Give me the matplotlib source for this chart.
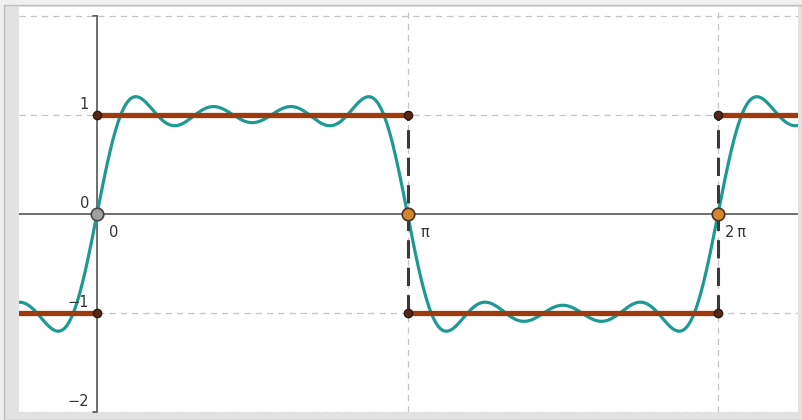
import numpy as np
import matplotlib.pyplot as plt
from matplotlib.patches import Rectangle

pi = np.pi

# partial Fourier sum of the square wave: odd harmonics and their amplitudes
harmonics = [1, 3, 5, 7]
amplitudes = [1.273, 0.424, 0.255, 0.182]

# square wave pieces: (start, end, level)
square_pieces = [(-pi, 0, -1), (0, pi, 1), (pi, 2 * pi, -1), (2 * pi, 3 * pi, 1)]

# jump points
jump_x = [pi, 2 * pi]
corner_pts = [(0, 1), (0, -1), (pi, 1), (pi, -1), (2 * pi, 1), (2 * pi, -1)]

ytick_vals = [1, 0, -1, -2]
ytick_text = ["1", "0", "\u22121", "\u22122"]
xtick_vals = [0, pi, 2 * pi]
xtick_text = ["0", "\u03c0", "2\u2009\u03c0"]

W, H = 803, 420
fig = plt.figure(figsize=(W / 100, H / 100), dpi=100, facecolor="#efefef")
fig.patches.append(Rectangle((4 / W, 0), 1, (H - 5) / H, transform=fig.transFigure,
                             facecolor="#e2e2e2", edgecolor="#bdbdbd", lw=1, zorder=-5))

ax = fig.add_axes([19 / W, 8 / H, (798 - 19) / W, (413 - 8) / H])
ax.set_zorder(2)
ax.set_facecolor("white")
ax.set_xlim(-0.2512 * pi, 2.2576 * pi)
ax.set_ylim(-2.0, 2.09)
for s in ax.spines.values():
    s.set_visible(False)
ax.set_xticks([])
ax.set_yticks([])

grid_kw = dict(color="#c4c4c4", lw=0.9, dashes=(5, 4), zorder=1)
for yv in [2, 1, -1, -2]:
    ax.axhline(yv, **grid_kw)
for xv in jump_x:
    ax.axvline(xv, **grid_kw)

# axes
ax.axhline(0, color="#555555", lw=1.2, zorder=2)
ax.plot([0, 0], [-2, 2], color="#555555", lw=1.2, zorder=2)
for yv in [2, -2]:
    ax.annotate("", xy=(0, yv), xytext=(-4, 0), textcoords="offset pixels",
                arrowprops=dict(arrowstyle="-", color="#555555", lw=1.2,
                                shrinkA=0, shrinkB=0))

# Fourier partial sum
x = np.linspace(-0.3 * pi, 2.3 * pi, 2000)
y = np.zeros_like(x)
for k, a in zip(harmonics, amplitudes):
    y += a * np.sin(k * x)
ax.plot(x, y, color="#1e9a93", lw=2.3, zorder=3, solid_capstyle="round")

# square wave
for x0, x1, lev in square_pieces:
    ax.plot([x0, x1], [lev, lev], color="#9e3b0e", lw=3.8, zorder=4,
            solid_capstyle="butt")
for xv in jump_x:
    ax.plot([xv, xv], [-1, 1], color="#3a3a3a", lw=2.2, dashes=(6, 3), zorder=4)

# points
for px, py in corner_pts:
    ax.plot(px, py, "o", ms=6, mfc="#5a2616", mec="#2a1a14", mew=1, zorder=6)
for xv in jump_x:
    ax.plot(xv, 0, "o", ms=9, mfc="#d4862e", mec="#4a3320", mew=1.2, zorder=6)
ax.plot(0, 0, "o", ms=9, mfc="#a0a0a0", mec="#454545", mew=1.2, zorder=6)

# tick labels
for yv, t in zip(ytick_vals, ytick_text):
    ax.annotate(t, xy=(0, yv), xytext=(-8, 3), textcoords="offset pixels",
                ha="right", va="bottom", fontsize=10.5, color="#333333", zorder=5)
for xv, t in zip(xtick_vals, xtick_text):
    ax.annotate(t, xy=(xv, 0), xytext=(17, -11), textcoords="offset pixels",
                ha="center", va="top", fontsize=10.5, color="#333333", zorder=5)

fig.savefig("out.png", dpi=100, facecolor=fig.get_facecolor())
